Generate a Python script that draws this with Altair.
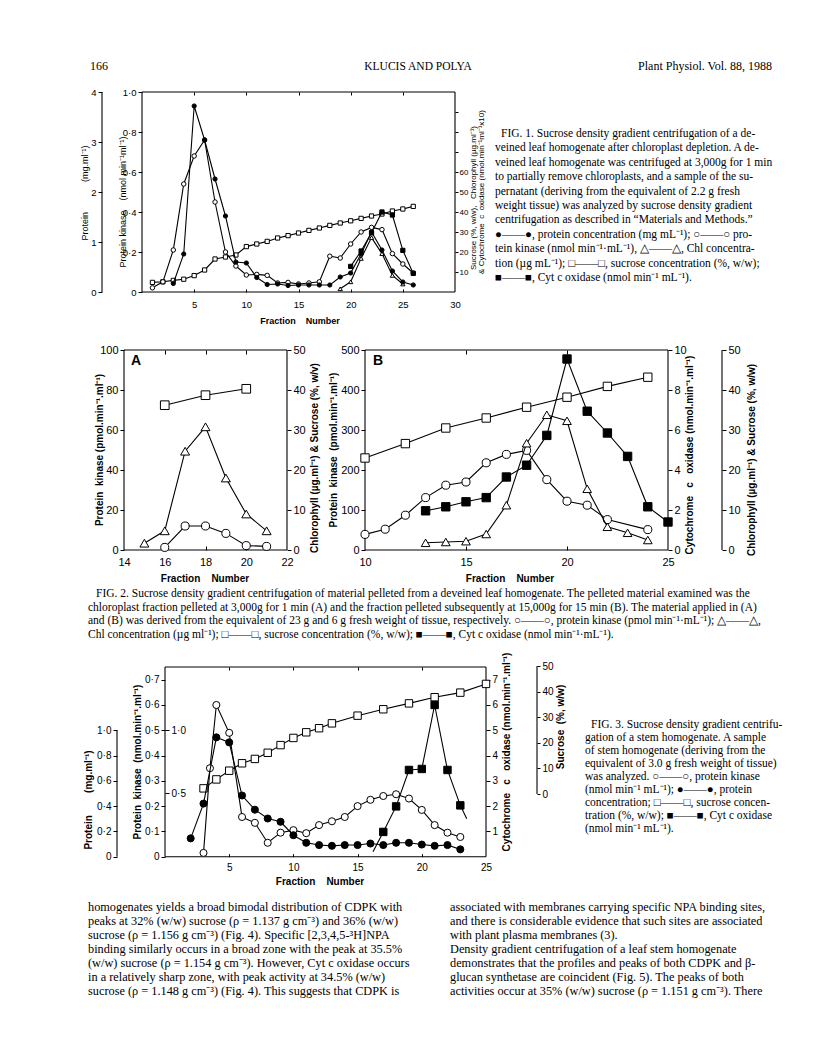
import altair as alt
import pandas as pd

# ---------------- data (read from the page) ----------------
# Fig. 1  (fraction number -> value)
F1_SUC_FR = list(range(1, 27))
F1_SUC = [4.8, 5.1, 5.8, 6.4, 8.2, 11.0, 16.5, 17.5, 18.5, 22.7, 24.0, 25.3, 27.0,
          28.2, 29.5, 30.8, 32.0, 33.3, 34.5, 35.6, 36.8, 38.0, 39.0, 40.5, 41.5, 42.8]
F1_PK_FR = list(range(1, 27))
F1_PK = [0.021, 0.051, 0.21, 0.54, 0.68, 0.76, 0.45, 0.2, 0.13, 0.085, 0.088, 0.083, 0.045,
         0.048, 0.04, 0.045, 0.051, 0.179, 0.17, 0.24, 0.30, 0.323, 0.312, 0.192, 0.14, 0.095]
F1_PROT_FR = list(range(3, 27))
F1_PROT = [0.17, 0.76, 3.72, 3.04, 2.26, 1.52, 0.6, 0.58, 0.29, 0.15, 0.16, 0.13, 0.14,
           0.14, 0.14, 0.14, 0.3, 0.38, 0.76, 1.2, 0.84, 0.42, 0.2, 0.14]
F1_CHL_FR = [19, 20, 21, 22, 23, 24, 25]
F1_CHL = [1.6, 5.1, 16.8, 27.2, 19.2, 8.3, 4.0]
F1_CYT_FR = [20, 21, 22, 23, 24, 25, 26]
F1_CYT = [12.8, 20.5, 29.6, 40.0, 38.5, 20.8, 9.3]

# Fig. 2A
A_SUC_FR = [16, 18, 20]
A_SUC = [36.2, 38.7, 40.3]
A_PK_FR = [16, 17, 18, 19, 20, 21]
A_PK = [1.3, 12.0, 12.0, 8.3, 2.2, 1.8]
A_CHL_FR = [15, 16, 17, 18, 19, 20, 21]
A_CHL = [1.7, 4.8, 24.7, 30.8, 18.0, 9.0, 4.8]

# Fig. 2B
B_SUC_FR = [10, 12, 14, 16, 18, 20, 22, 24]
B_SUC = [23.0, 26.6, 30.5, 33.0, 35.7, 38.2, 40.9, 43.2]
B_PK_FR = [10, 11, 12, 13, 14, 15, 16, 17, 18, 19, 20, 21, 22, 24]
B_PK = [39, 52, 87, 131, 162, 170, 218, 239, 249, 176, 122, 112, 76, 51]
B_CHL_FR = [13, 14, 15, 16, 17, 18, 19, 20, 21, 22, 23, 24]
B_CHL = [1.8, 2.0, 2.2, 4.0, 11.2, 26.7, 33.8, 32.3, 15.3, 5.8, 4.3, 2.5]
B_CYT_FR = [13, 14, 15, 16, 17, 18, 19, 20, 21, 22, 23, 24, 25]
B_CYT = [1.96, 2.16, 2.41, 2.62, 3.65, 4.24, 5.73, 9.55, 6.94, 5.85, 4.68, 2.16, 1.4]

# Fig. 3
F3_SUC_FR = [3, 4, 5, 6, 7, 8, 9, 10, 11, 12, 13, 15, 17, 19, 21, 23, 25]
F3_SUC = [2.2, 5.7, 9.1, 12.0, 13.7, 16.1, 19.1, 21.9, 24.1, 25.7, 27.6, 30.6, 33.1,
          35.4, 37.8, 39.6, 43.0]
F3_PK_FR = [3, 3.5, 4, 5, 6, 7, 8, 9, 10, 11, 12, 13, 14, 15, 16, 17, 18, 19, 20, 21, 22, 23]
F3_PK = [0.015, 0.35, 0.6, 0.49, 0.157, 0.134, 0.055, 0.095, 0.105, 0.093, 0.125, 0.14,
         0.157, 0.2, 0.225, 0.24, 0.247, 0.23, 0.185, 0.125, 0.095, 0.078]
F3_PROT_FR = list(range(2, 24))
F3_PROT = [0.145, 0.42, 0.944, 0.904, 0.484, 0.372, 0.302, 0.276, 0.17, 0.11, 0.092, 0.086,
           0.092, 0.092, 0.104, 0.092, 0.11, 0.11, 0.096, 0.086, 0.092, 0.058]
F3_CYT_FR = [16.2, 17, 18, 19, 20, 21, 22, 23, 23.5]
F3_CYT = [0.2, 0.98, 1.99, 3.43, 3.47, 6.0, 3.43, 2.03, 1.5]
F3_CYT_MARK = [False, True, True, True, True, True, True, True, False]

# ---------------- texts ----------------
HEADER_LEFT = "166"
HEADER_MID = "KLUCIS AND POLYA"
HEADER_RIGHT = "Plant Physiol. Vol. 88, 1988"

CAP1 = [
    "FIG. 1. Sucrose density gradient centrifugation of a de-",
    "veined leaf homogenate after chloroplast depletion. A de-",
    "veined leaf homogenate was centrifuged at 3,000g for 1 min",
    "to partially remove chloroplasts, and a sample of the su-",
    "pernatant (deriving from the equivalent of 2.2 g fresh",
    "weight tissue) was analyzed by sucrose density gradient",
    "centrifugation as described in \u201cMaterials and Methods.\u201d",
    "\u25cf\u2014\u2014\u25cf, protein concentration (mg mL\u207b\u00b9); \u25cb\u2014\u2014\u25cb pro-",
    "tein kinase (nmol min\u207b\u00b9\u00b7mL\u207b\u00b9), \u25b3\u2014\u2014\u25b3, Chl concentra-",
    "tion (\u00b5g mL\u207b\u00b9); \u25a1\u2014\u2014\u25a1, sucrose concentration (%, w/w);",
    "\u25a0\u2014\u2014\u25a0, Cyt c oxidase (nmol min\u207b\u00b9 mL\u207b\u00b9).",
]
CAP2 = [
    "FIG. 2. Sucrose density gradient centrifugation of material pelleted from a deveined leaf homogenate. The pelleted material examined was the",
    "chloroplast fraction pelleted at 3,000g for 1 min (A) and the fraction pelleted subsequently at 15,000g for 15 min (B). The material applied in (A)",
    "and (B) was derived from the equivalent of 23 g and 6 g fresh weight of tissue, respectively. \u25cb\u2014\u2014\u25cb, protein kinase (pmol min\u207b\u00b9\u00b7mL\u207b\u00b9); \u25b3\u2014\u2014\u25b3,",
    "Chl concentration (\u00b5g ml\u207b\u00b9); \u25a1\u2014\u2014\u25a1, sucrose concentration (%, w/w); \u25a0\u2014\u2014\u25a0, Cyt c oxidase (nmol min\u207b\u00b9\u00b7mL\u207b\u00b9).",
]
CAP3 = [
    "FIG. 3. Sucrose density gradient centrifu-",
    "gation of a stem homogenate. A sample",
    "of stem homogenate (deriving from the",
    "equivalent of 3.0 g fresh weight of tissue)",
    "was analyzed. \u25cb\u2014\u2014\u25cb, protein kinase",
    "(nmol min\u207b\u00b9 mL\u207b\u00b9); \u25cf\u2014\u2014\u25cf, protein",
    "concentration; \u25a1\u2014\u2014\u25a1, sucrose concen-",
    "tration (%, w/w); \u25a0\u2014\u2014\u25a0, Cyt c oxidase",
    "(nmol min\u207b\u00b9 mL\u207b\u00b9).",
]
BODY_L = [
    "homogenates yields a broad bimodal distribution of CDPK with",
    "peaks at 32% (w/w) sucrose (\u03c1 = 1.137 g cm\u207b\u00b3) and 36% (w/w)",
    "sucrose (\u03c1 = 1.156 g cm\u207b\u00b3) (Fig. 4). Specific [2,3,4,5-\u00b3H]NPA",
    "binding similarly occurs in a broad zone with the peak at 35.5%",
    "(w/w) sucrose (\u03c1 = 1.154 g cm\u207b\u00b3). However, Cyt c oxidase occurs",
    "in a relatively sharp zone, with peak activity at 34.5% (w/w)",
    "sucrose (\u03c1 = 1.148 g cm\u207b\u00b3) (Fig. 4). This suggests that CDPK is",
]
BODY_R = [
    "associated with membranes carrying specific NPA binding sites,",
    "and there is considerable evidence that such sites are associated",
    "with plant plasma membranes (3).",
    "\u00a0\u00a0\u00a0Density gradient centrifugation of a leaf stem homogenate",
    "demonstrates that the profiles and peaks of both CDPK and \u03b2-",
    "glucan synthetase are coincident (Fig. 5). The peaks of both",
    "activities occur at 35% (w/w) sucrose (\u03c1 = 1.151 g cm\u207b\u00b3). There",
]

# ---------------- page geometry helpers ----------------
W, H = 800, 1046
SANS = "Liberation Sans"
SERIF = "Liberation Serif"
ONE = pd.DataFrame({"a": [0]})
SP = "\u00a0"


def px(x):
    return x - 8


def py(y):
    return y - 8


def xscale(a, pa, b, pb):
    u = (b - a) / (pb - pa)
    return alt.Scale(domain=[a - px(pa) * u, b + (W - px(pb)) * u], nice=False, zero=False)


def yscale(a, ya, b, yb):
    u = (b - a) / (ya - yb)
    return alt.Scale(domain=[a - (H - py(ya)) * u, b + py(yb) * u], nice=False, zero=False)


def series(frac, vals, xs, ys, shape, fill, size, marker=None, sw=1.1):
    df = pd.DataFrame({"f": frac, "v": vals})
    if marker is not None:
        df["m"] = marker
    enc = dict(x=alt.X("f:Q", scale=xs, axis=None), y=alt.Y("v:Q", scale=ys, axis=None))
    line = alt.Chart(df).mark_line(color="black", strokeWidth=sw).encode(**enc)
    pts = alt.Chart(df).mark_point(shape=shape, filled=True, fill=fill, stroke="black",
                                   strokeWidth=1.0, size=size, opacity=1).encode(**enc)
    if marker is not None:
        pts = pts.transform_filter("datum.m")
    return [line, pts]


def yaxis(scale, lo, hi, xpos, orient, values, lab=None, tick=4, labels=True,
          size=10, pad=2, line=True):
    off = -px(xpos) if orient == "left" else px(xpos) - W
    kw = dict(orient=orient, offset=off, values=values, domain=False, grid=False,
              ticks=True, tickSize=tick, tickColor="black", tickWidth=1, labels=labels,
              labelFont=SANS, labelFontSize=size, labelColor="black", labelPadding=pad,
              labelOverlap=False, labelFlush=False, title=None)
    if lab:
        kw["labelExpr"] = lab
    df = pd.DataFrame({"lo": [lo], "hi": [hi]})
    return alt.Chart(df).mark_rule(color="black", strokeWidth=1.1,
                                   opacity=1 if line else 0).encode(
        y=alt.Y("lo:Q", scale=scale, axis=alt.Axis(**kw)), y2="hi:Q",
        x=alt.value(px(xpos)))


def xaxis(scale, lo, hi, ypos, orient, values, lab=None, tick=4, labels=True,
          ticks=True, size=10, pad=2, line=True):
    off = py(ypos) - H if orient == "bottom" else -py(ypos)
    kw = dict(orient=orient, offset=off, values=values, domain=False, grid=False,
              ticks=ticks, tickSize=tick, tickColor="black", tickWidth=1, labels=labels,
              labelFont=SANS, labelFontSize=size, labelColor="black", labelPadding=pad,
              labelOverlap=False, labelFlush=False, title=None)
    if lab:
        kw["labelExpr"] = lab
    df = pd.DataFrame({"lo": [lo], "hi": [hi]})
    return alt.Chart(df).mark_rule(color="black", strokeWidth=1.1,
                                   opacity=1 if line else 0).encode(
        x=alt.X("lo:Q", scale=scale, axis=alt.Axis(**kw)), x2="hi:Q",
        y=alt.value(py(ypos)))


def text(s, x, y, size=10, font=SANS, align="left", weight="normal", angle=0,
         baseline="alphabetic", lh=17, style="normal"):
    if isinstance(s, list):
        s = "\n".join(s)
    return alt.Chart(ONE).mark_text(text=s, align=align, baseline=baseline, font=font,
                                    fontSize=size, fontWeight=weight, fontStyle=style,
                                    angle=angle, lineBreak="\n", lineHeight=lh,
                                    color="black").encode(
        x=alt.value(px(x)), y=alt.value(py(y)))


def vtitle(s, x, y, size=9.5, weight="normal"):
    return text(s, x, y, size=size, align="center", baseline="middle", angle=270,
                weight=weight)


def para(lines, x, y, indent, size, lh):
    # first line indented, the rest flush left
    return [text(lines[0], x + indent, y, size=size, font=SERIF, lh=lh),
            text(lines[1:], x, y + lh, size=size, font=SERIF, lh=lh)]


DOT = "datum.value == 0 ? '0' : replace(format(datum.value, '.1f'), '.', '\u00b7')"
FN = "Fraction" + SP * 4 + "Number"
CAPSIZE = 11.5

layers = []

# ---------------- header ----------------
layers += [
    text(HEADER_LEFT, 90, 70, size=12, font=SERIF),
    text(HEADER_MID, 418, 70, size=11.5, font=SERIF, align="center"),
    text(HEADER_RIGHT, 772, 70, size=12, font=SERIF, align="right"),
]

# ---------------- Fig. 1 ----------------
x1 = xscale(0, 142, 30, 455)
pk1 = yscale(0, 292, 1.0, 92)
pr1 = yscale(0, 292, 4, 92)
rt1 = yscale(0, 292, 100, 92)
layers += [
    yaxis(pk1, 0, 1.0, 142, "left", [0, 0.2, 0.4, 0.6, 0.8, 1.0], lab=DOT, size=9.5),
    yaxis(pr1, 0, 4, 102, "left", [0, 1, 2, 3, 4], size=9.5),
    yaxis(rt1, 0, 100, 455, "right", [10, 20, 30, 40, 50, 60, 70, 80, 90],
          lab="datum.value > 60 ? '' : '' + datum.value", size=8, tick=3, pad=1),
    xaxis(x1, 0, 30, 292, "bottom", [5, 10, 15, 20, 25, 30], ticks=False, tick=0, pad=7,
          size=9.5),
    xaxis(x1, 0, 30, 292, "top", [5, 10, 15, 20, 25], labels=False, tick=3, line=False),
    xaxis(x1, 0, 30, 92, "bottom", [5, 10, 15, 20, 25], labels=False, tick=3),
]
layers += series(F1_SUC_FR, F1_SUC, x1, rt1, "square", "white", 18)
layers += series(F1_PK_FR, F1_PK, x1, pk1, "circle", "white", 20)
layers += series(F1_CHL_FR, F1_CHL, x1, rt1, "triangle-up", "white", 18)
layers += series(F1_PROT_FR, F1_PROT, x1, pr1, "circle", "black", 18)
layers += series(F1_CYT_FR, F1_CYT, x1, rt1, "square", "black", 18)
layers += [
    vtitle("Protein" + SP * 12 + "(mg.ml\u207b\u00b9)", 85, 193, size=9),
    vtitle("Protein kinase" + SP * 4 + "(nmol min\u207b\u00b9ml\u207b\u00b9)", 123, 202, size=9),
    vtitle("Sucrose (%, w/w)," + SP * 3 + "Chlorophyll (\u00b5g.ml\u207b\u00b9)", 474, 198,
           size=8),
    vtitle("& Cytochrome" + SP * 2 + "c" + SP * 2 + "oxidase (nmol.min\u207b\u00b9ml\u207b\u00b9x10)",
           482, 192, size=8),
    text(FN, 300, 324, size=9, align="center", weight="bold"),
]
layers += para(CAP1, 495, 137, 6, CAPSIZE, 14.4)

# ---------------- Fig. 2A ----------------
xa = xscale(14, 124, 22, 287)
pka = yscale(0, 550, 100, 350)
ra = yscale(0, 550, 50, 350)
layers += [
    yaxis(pka, 0, 100, 124, "left", [0, 20, 40, 60, 80, 100], size=11),
    yaxis(ra, 0, 50, 287, "right", [0, 10, 20, 30, 40, 50], size=11),
    xaxis(xa, 14, 22, 550, "bottom", [14, 16, 18, 20, 22], ticks=False, tick=0, pad=6,
          size=11),
    xaxis(xa, 14, 22, 550, "top", [16, 18, 20], labels=False, tick=4, line=False),
    xaxis(xa, 14, 22, 350, "bottom", [16, 18, 20], labels=False, tick=4),
]
layers += series(A_SUC_FR, A_SUC, xa, ra, "square", "white", 75)
layers += series(A_CHL_FR, A_CHL, xa, ra, "triangle-up", "white", 80)
layers += series(A_PK_FR, A_PK, xa, pka, "circle", "white", 65)
layers += [
    text("A", 131, 365, size=14, weight="bold"),
    vtitle("Protein" + SP * 2 + "kinase (pmol.min\u207b\u00b9.ml\u207b\u00b9)", 100, 450, size=10,
           weight="bold"),
    vtitle("Chlorophyll (\u00b5g.ml\u207b\u00b9) & Sucrose (%, w/v)", 315, 458, size=10,
           weight="bold"),
    text(FN, 205, 582, size=10, align="center", weight="bold"),
]

# ---------------- Fig. 2B ----------------
xb = xscale(10, 365, 25, 668)
cb = yscale(0, 550, 10, 350)
pkb = yscale(0, 550, 500, 350)
sb = yscale(0, 550, 50, 350)
layers += [
    yaxis(pkb, 0, 500, 365, "left", [0, 100, 200, 300, 400, 500], size=11),
    yaxis(cb, 0, 10, 668, "right", [0, 2, 4, 6, 8, 10], size=11),
    yaxis(sb, 0, 50, 722, "right", [0, 10, 20, 30, 40, 50], size=11),
    xaxis(xb, 10, 25, 550, "bottom", [10, 15, 20, 25], ticks=False, tick=0, pad=6, size=11),
    xaxis(xb, 10, 25, 550, "top", [15, 20], labels=False, tick=4, line=False),
    xaxis(xb, 10, 25, 350, "bottom", [15, 20], labels=False, tick=4),
]
layers += series(B_SUC_FR, B_SUC, xb, sb, "square", "white", 70)
layers += series(B_PK_FR, B_PK, xb, pkb, "circle", "white", 65)
layers += series(B_CHL_FR, B_CHL, xb, sb, "triangle-up", "white", 75)
layers += series(B_CYT_FR, B_CYT, xb, cb, "square", "black", 70)
layers += [
    text("B", 373, 365, size=14, weight="bold"),
    vtitle("Protein" + SP * 2 + "kinase" + SP * 2 + "(pmol.min\u207b\u00b9.ml\u207b\u00b9)", 334, 450,
           size=10, weight="bold"),
    vtitle("Cytochrome" + SP * 3 + "c" + SP * 3 + "oxidase (nmol.min\u207b\u00b9.ml\u207b\u00b9)", 690,
           455, size=10, weight="bold"),
    vtitle("Chlorophyll (\u00b5g.ml\u207b\u00b9) & Sucrose (%, w/w)", 752, 460, size=10,
           weight="bold"),
    text(FN, 510, 582, size=10, align="center", weight="bold"),
]
layers += para(CAP2, 88, 597, 8, CAPSIZE, 13.5)

# ---------------- Fig. 3 ----------------
x3 = xscale(0, 165, 25, 486)
pk3 = yscale(0, 856.7, 0.7, 679.7)
pr3 = yscale(0, 856.7, 1.4, 679.7)
cy3 = yscale(0, 856.7, 7, 679.7)
su3 = yscale(0, 794, 50, 666)
layers += [
    yaxis(pk3, 0, 0.75, 165, "left", [0, 0.1, 0.2, 0.3, 0.4, 0.5, 0.6, 0.7], lab=DOT,
          size=10),
    yaxis(pk3, 0, 0.75, 165, "right", [0.25, 0.5],
          lab="datum.value == 0.25 ? '0\u00b75' : '1\u00b70'", size=10, line=False),
    yaxis(pr3, 0, 1.0, 117, "left", [0, 0.2, 0.4, 0.6, 0.8, 1.0], lab=DOT, size=10),
    yaxis(cy3, 0, 7.5, 486, "right", [1, 2, 3, 4, 5, 6, 7], size=10),
    yaxis(su3, 0, 50, 537, "right", [0, 10, 20, 30, 40, 50], size=10, tick=3),
    xaxis(x3, 0, 25, 856.7, "bottom", [5, 10, 15, 20, 25], ticks=False, tick=0, pad=6,
          size=10),
    xaxis(x3, 0, 25, 856.7, "top", [5, 10, 15, 20], labels=False, tick=3, line=False),
    xaxis(x3, 0, 25, 667, "bottom", [5, 10, 15, 20], labels=False, tick=3),
]
layers += series(F3_SUC_FR, F3_SUC, x3, su3, "square", "white", 55)
layers += series(F3_PK_FR, F3_PK, x3, pk3, "circle", "white", 50)
layers += series(F3_PROT_FR, F3_PROT, x3, pr3, "circle", "black", 50)
layers += series(F3_CYT_FR, F3_CYT, x3, cy3, "square", "black", 55, marker=F3_CYT_MARK)
layers += [
    vtitle("Protein" + SP * 8 + "(mg.ml\u207b\u00b9)", 89, 800, size=10, weight="bold"),
    vtitle("Protein" + SP * 2 + "kinase" + SP * 2 + "(nmol.min\u207b\u00b9.ml\u207b\u00b9)", 138, 762,
           size=10, weight="bold"),
    vtitle("Cytochrome" + SP * 3 + "c" + SP * 3 + "oxidase (nmol.min\u207b\u00b9.ml\u207b\u00b9)", 507,
           752, size=10, weight="bold"),
    vtitle("Sucrose" + SP * 2 + "(%, w/w)", 561, 727, size=10, weight="bold"),
    text(FN, 320, 885, size=10, align="center", weight="bold"),
]
layers += para(CAP3, 585, 728, 6, CAPSIZE, 13)

# ---------------- body text ----------------
layers += [
    text(BODY_L, 88, 911, size=12.3, font=SERIF, lh=14),
    text(BODY_R, 450, 911, size=12.3, font=SERIF, lh=14),
]

chart = alt.layer(*layers).resolve_scale(x="independent", y="independent").properties(
    width=W, height=H, autosize=alt.AutoSizeParams(type="none"), padding=0,
    background="white").configure_view(stroke=None)

chart.save("out.html", embed_options={"renderer": "svg", "actions": False})
